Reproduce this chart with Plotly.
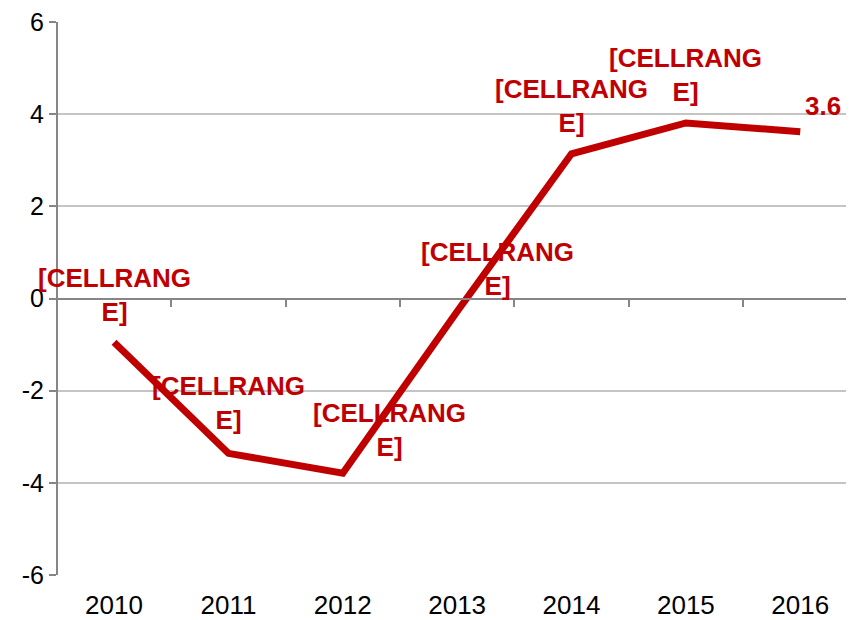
import plotly.graph_objects as go

years = [2010, 2011, 2012, 2013, 2014, 2015, 2016]
values = [-0.95, -3.36, -3.79, -0.28, 3.14, 3.81, 3.62]
labels = ["[CELLRANG<br>E]", "[CELLRANG<br>E]", "[CELLRANG<br>E]", "[CELLRANG<br>E]",
          "[CELLRANG<br>E]", "[CELLRANG<br>E]", "3.6"]
y_ticks = [-6, -4, -2, 0, 2, 4, 6]
y_ticktext = ["-6", "-4", "-2", "0", "2", "4", "6"]

# label offsets in pixels (style)
label_dx = [0, 0, 47, 40, 0, 0, 23]
label_dy = [47, 50, 43, 42, 48, 48, 26]

RED = "#C00000"
AXIS = "#868686"
GRID = "#C4C4C4"
FONT = "Liberation Sans, Arial, sans-serif"

fig = go.Figure()
fig.add_trace(go.Scatter(x=years, y=values, mode="lines",
                         line=dict(color=RED, width=7), showlegend=False,
                         hoverinfo="skip"))
# invisible trace to carry the zero-line axis with boundary ticks
fig.add_trace(go.Scatter(x=years, y=values, mode="lines", xaxis="x2",
                         line=dict(width=0), opacity=0, showlegend=False,
                         hoverinfo="skip"))

for yr, v, t, dx, dy in zip(years, values, labels, label_dx, label_dy):
    fig.add_annotation(x=yr, y=v, text=t, showarrow=False,
                       xanchor="center", yanchor="middle",
                       xshift=dx, yshift=dy,
                       font=dict(family=FONT, size=26, color=RED, weight="bold"))

xr = [years[0] - 0.49, years[-1] + 0.47]
boundaries = [y + 0.5 for y in years[:-1]]

fig.update_layout(
    width=846, height=612,
    margin=dict(l=50, r=0, t=12, b=43),
    plot_bgcolor="white", paper_bgcolor="white",
    font=dict(family=FONT, size=25, color="black"),
    xaxis=dict(range=xr, tickvals=years, ticktext=[str(y) for y in years],
               showgrid=False, zeroline=False, showline=False, ticks="",
               ticklabelstandoff=12, ticklabeloverflow="allow",
               tickfont=dict(size=26, color="black")),
    xaxis2=dict(range=xr, overlaying="x", anchor="free", position=0.5,
                side="bottom", showline=True, linecolor=AXIS, linewidth=2,
                ticks="outside", tickvals=boundaries, ticklen=7, tickwidth=2,
                tickcolor=AXIS, showticklabels=False, showgrid=False,
                zeroline=False),
    yaxis=dict(range=[-6, 6], tickvals=y_ticks, ticktext=y_ticktext,
               showgrid=True, gridcolor=GRID, ticklabeloverflow="allow",
               gridwidth=2, zeroline=False, showline=True, linecolor=AXIS,
               linewidth=2, ticks="outside", ticklen=7, tickwidth=2,
               tickcolor=AXIS, tickfont=dict(size=25, color="black")),
)

fig.write_html("out.html")
